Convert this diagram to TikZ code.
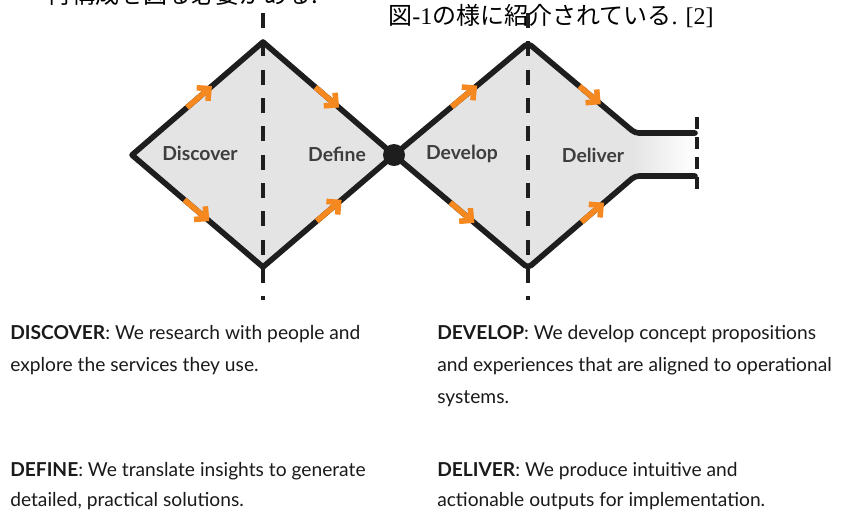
\documentclass[tikz,border=0pt]{standalone}
\usepackage{fontspec}
\setmainfont{Lato}
\newfontfamily\jpfont{Noto Sans CJK JP}
\newfontfamily\serifnum{Liberation Serif}
\usetikzlibrary{arrows.meta,calc}

\definecolor{outline}{HTML}{1E1E1E}
\definecolor{phasefill}{HTML}{E4E4E4}
\definecolor{accent}{HTML}{F5891F}
\definecolor{labelgray}{HTML}{3E3E3E}
\definecolor{bodytext}{HTML}{1A1A1A}

\tikzset{
  edge/.style={draw=outline, line width=4.2pt, line join=round, line cap=round},
  guide/.style={draw=outline, line width=3pt, dash pattern=on 11.25pt off 10pt},
  tailguide/.style={draw=outline, line width=2.6pt, dash pattern=on 9pt off 6pt},
  flow/.style={draw=accent, line width=4.2pt, -{Straight Barb[length=6.5pt,width=13pt]}},
  phaselabel/.style={text=labelgray, font=\fontsize{14.5pt}{17pt}\selectfont\bfseries, inner sep=0pt},
  note/.style={text=bodytext, font=\fontsize{14.4pt}{17pt}\selectfont, inner sep=0pt, anchor=base west},
  jptext/.style={text=black, font=\fontsize{18pt}{20pt}\selectfont, inner sep=0pt, anchor=base west}
}

\begin{document}
\begin{tikzpicture}[x=0.75pt, y=-0.75pt]
\useasboundingbox (0,0) rectangle (842,512);
\clip (0,0) rectangle (842,512);
\fill[white] (0,0) rectangle (842,512);

% key points of the double diamond
\coordinate (L1) at (132,155);
\coordinate (T1) at (263,42);
\coordinate (B1) at (263,267);
\coordinate (M)  at (394,155);
\coordinate (T2) at (528,43);
\coordinate (B2) at (528,268);
\coordinate (K2t) at (635,133);
\coordinate (K2b) at (635,176);
\coordinate (E2t) at (695,133);
\coordinate (E2b) at (695,176);

% running text above the figure
\node[jptext, anchor=base east] (prevline) at (318,3) {\jpfont ・再構成を図る必要がある.};
\node[jptext] (caption) at (388,24) {\jpfont 図\serifnum -1\jpfont の様に紹介されている\serifnum . [2]};

% fills
\fill[phasefill] (L1) -- (T1) -- (M) -- (B1) -- cycle;
\fill[phasefill] (M) -- (T2) -- (K2t) -- (K2b) -- (B2) -- cycle;
\shade[left color=phasefill, right color=white] ($(K2t)+(-2,0)$) rectangle (E2b);

% phase boundaries
\draw[guide] (263,13) -- (263,300);
\draw[guide] (528,13) -- (528,300);
\draw[tailguide] (697,117) -- (697,193);

% outlines
\draw[edge] (L1) -- (T1) -- (M) -- (B1) -- cycle;
\draw[edge, rounded corners=3pt] (E2t) -- (K2t) -- (T2) -- (M) -- (B2) -- (K2b) -- (E2b);
\node[circle, fill=outline, minimum size=16.5pt, inner sep=0pt] (hub) at (M) {};

% flow arrows
\draw[flow] ($(L1)!0.42!(T1)$) -- ($(L1)!0.61!(T1)$);
\draw[flow] ($(T1)!0.40!(M)$)  -- ($(T1)!0.58!(M)$);
\draw[flow] ($(L1)!0.40!(B1)$) -- ($(L1)!0.59!(B1)$);
\draw[flow] ($(B1)!0.41!(M)$)  -- ($(B1)!0.60!(M)$);
\draw[flow] ($(M)!0.43!(T2)$)  -- ($(M)!0.62!(T2)$);
\draw[flow] ($(T2)!0.48!(K2t)$) -- ($(T2)!0.68!(K2t)$);
\draw[flow] ($(M)!0.42!(B2)$)  -- ($(M)!0.60!(B2)$);
\draw[flow] ($(B2)!0.50!(K2b)$) -- ($(B2)!0.71!(K2b)$);

% phase names
\node[phaselabel] (discover) at (200,153) {Discover};
\node[phaselabel] (define)   at (337,154) {Define};
\node[phaselabel] (develop)  at (462,154) {Develop};
\node[phaselabel] (deliver)  at (593,155) {Deliver};

% descriptions
\node[note] (d1a) at (10,339)  {\textbf{DISCOVER}: We research with people and};
\node[note] (d1b) at (10,371)  {explore the services they use.};
\node[note] (d2a) at (437,339) {\textbf{DEVELOP}: We develop concept propositions};
\node[note] (d2b) at (437,371) {and experiences that are aligned to operational};
\node[note] (d2c) at (437,403) {systems.};
\node[note] (d3a) at (10,476)  {\textbf{DEFINE}: We translate insights to generate};
\node[note] (d3b) at (10,506)  {detailed, practical solutions.};
\node[note] (d4a) at (437,476) {\textbf{DELIVER}: We produce intuitive and};
\node[note] (d4b) at (437,506) {actionable outputs for implementation.};
\end{tikzpicture}
\end{document}
